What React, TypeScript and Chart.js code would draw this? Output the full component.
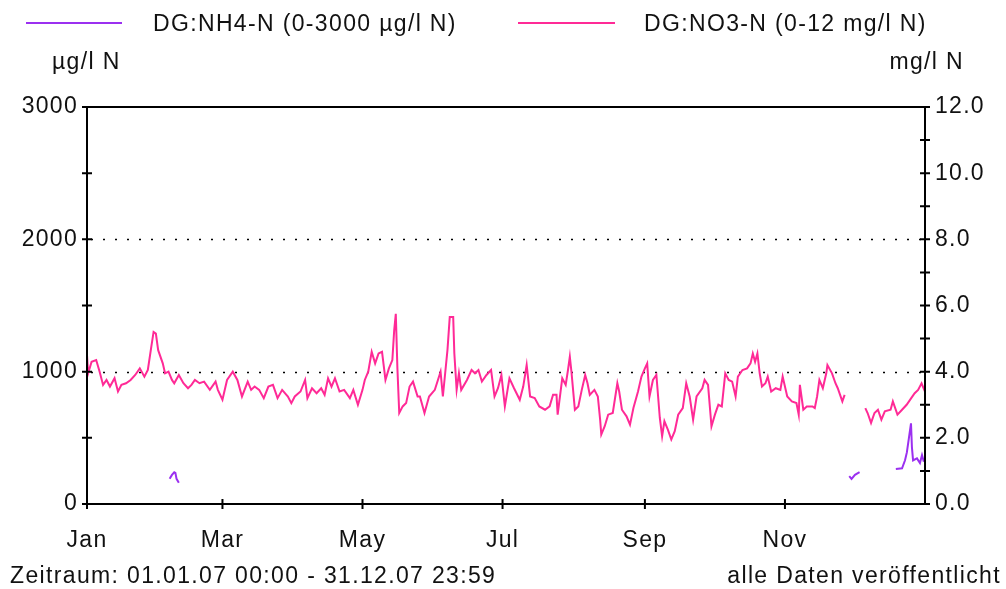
import React, { useEffect, useRef } from "react";
import { Chart, registerables } from "chart.js";

Chart.register(...registerables);

// ---- data ----
const monthDays = [0, 59, 120, 181, 243, 304];
const monthLabels = ["Jan", "Mar", "May", "Jul", "Sep", "Nov"];

// DG:NO3-N in mg/l N (right axis), x = day of year 2007; null marks a gap
const no3Days = [
  0, 0.5, 2, 4, 5.5, 7, 8.5, 10, 12, 13.5, 15, 17, 19, 21, 23, 25, 26.5, 28, 29, 30, 31, 33, 34, 35.5, 37, 38, 40,
  42, 44, 45.5, 47, 49, 51, 53.5, 56, 57, 59, 61, 63.5, 65.5, 67.5, 70, 71.5, 73, 75, 77, 79, 81, 83, 85, 87.5, 89,
  90.5, 93, 95, 96, 98, 100, 102, 103.5, 105, 106.5, 108, 110, 112, 114.5, 116, 118, 120, 121, 122.5, 124, 125.5,
  127, 128.5, 130, 131.5, 133, 133.8, 134.5, 135.2, 136, 137.5, 139, 140.5, 142, 144, 145, 147, 149, 151.5, 154,
  155, 157, 158, 159.5, 160, 161, 162, 163, 165.5, 167.5, 169, 170.5, 172, 174, 176, 177.5, 179, 180.5, 182, 184,
  186, 188.5, 190, 191.5, 193, 195, 197, 199.5, 201.5, 203, 204.5, 205, 207, 208.5, 209.5, 210.3, 211, 212.5, 214,
  215.5, 217, 218, 219, 221, 222.5, 223.5, 224, 225.5, 227, 229, 231, 231.8, 233, 235, 236.5, 238, 240, 241.5, 243,
  244, 245, 246.5, 248, 249.5, 250.5, 251.5, 253, 254.5, 256, 257.5, 259.5, 261, 262.5, 264, 265.5, 268, 269, 270.5,
  272, 273.5, 275, 276.5, 278, 279.5, 281, 282.5, 283.5, 285.5, 287.5, 289, 290, 291, 292, 293, 294, 295.5, 296.5,
  298, 300, 302, 303, 305, 307, 309, 310, 310.5, 312, 313.5, 316, 317, 318, 319, 320.5, 322, 322.5, 324.5, 326, 327,
  329, 330, 334, 339, 340, 341.5, 343, 344.5, 346, 347.5, 350, 351, 353, 355, 357, 359, 360.5, 362, 363.5, 365,
];
const no3Values = [
  4.5, 3.95, 4.3, 4.35, 4.0, 3.6, 3.75, 3.55, 3.8, 3.4, 3.6, 3.65, 3.75, 3.9, 4.1, 3.85, 4.05, 4.75, 5.2, 5.15, 4.65,
  4.25, 3.95, 4.0, 3.75, 3.65, 3.9, 3.65, 3.5, 3.6, 3.75, 3.65, 3.7, 3.45, 3.7, 3.45, 3.15, 3.75, 4.0, 3.75, 3.25,
  3.7, 3.45, 3.55, 3.45, 3.2, 3.55, 3.6, 3.2, 3.45, 3.25, 3.05, 3.25, 3.4, 3.75, 3.2, 3.5, 3.35, 3.5, 3.3, 3.8, 3.55,
  3.8, 3.4, 3.45, 3.2, 3.45, 3.0, 3.45, 3.75, 4.0, 4.6, 4.25, 4.55, 4.6, 3.75, 4.1, 4.35, 5.25, 5.75, 4.1, 2.75,
  2.95, 3.05, 3.55, 3.7, 3.25, 3.25, 2.75, 3.25, 3.45, 4.0, 3.25, 4.65, 5.65, 5.65, 4.55, 3.45, 3.95, 3.45, 3.75,
  4.05, 3.95, 4.05, 3.7, 3.9, 4.05, 3.25, 3.5, 3.9, 2.95, 3.8, 3.5, 3.15, 3.55, 4.2, 3.25, 3.2, 2.95, 2.85, 2.95,
  3.3, 3.3, 2.7, 3.8, 3.6, 4.05, 4.45, 4.0, 2.85, 2.95, 3.45, 3.9, 3.65, 3.3, 3.45, 3.25, 2.55, 2.1, 2.35, 2.7,
  2.75, 3.65, 3.4, 2.85, 2.65, 2.4, 2.9, 3.4, 3.85, 4.1, 4.25, 3.25, 3.75, 3.9, 2.6, 2.05, 2.5, 2.25, 1.95, 2.2,
  2.7, 2.9, 3.65, 3.25, 2.55, 3.25, 3.5, 3.75, 3.6, 2.35, 2.7, 3.0, 2.95, 3.95, 3.75, 3.7, 3.25, 3.85, 4.05, 4.1,
  4.25, 4.55, 4.3, 4.55, 3.95, 3.55, 3.65, 3.85, 3.4, 3.5, 3.45, 3.85, 3.25, 3.1, 3.05, 2.7, 3.6, 2.85, 2.95, 2.95,
  2.9, 3.25, 3.75, 3.5, 3.95, 4.2, 3.95, 3.65, 3.5, 3.1, 3.3, null, 2.9, 2.75, 2.45, 2.75, 2.85, 2.55, 2.8, 2.85,
  3.1, 2.7, 2.85, 3.0, 3.2, 3.35, 3.45, 3.65, 3.4,
];

// DG:NH4-N in µg/l N (left axis)
const nh4Days = [
  36, 37, 38, 38.5, 39, 40, 100, 332, 333, 334.5, 336.5, 345, 352.3, 355, 356.3, 357.1, 358, 358.9, 359.3, 359.8,
  361.5, 362.8, 363.7, 364.5,
];
const nh4Values = [
  190, 220, 240, 235, 190, 160, null, 210, 190, 220, 240, null, 265, 270, 330, 390, 500, 610, 430, 330, 345, 310,
  370, 320,
];

const leftTicksStep = 500;
const rightTicksStep = 1;

const FONT = '"Liberation Sans", Arial, sans-serif';
const PURPLE = "#9b30f0";
const PINK = "#ff2a96";

const axesPlugin = {
  id: "axesPlugin",
  beforeDraw(chart: any) {
    (chart.ctx as any).letterSpacing = "1.3px";
  },
  beforeDatasetsDraw(chart: any) {
    const { ctx, chartArea } = chart;
    const y = chart.scales.y;
    ctx.save();
    ctx.strokeStyle = "#000";
    ctx.lineWidth = 1.6;
    ctx.setLineDash([2, 10]);
    [1000, 2000].forEach((v) => {
      const py = Math.round(y.getPixelForValue(v)) + 0.5;
      ctx.beginPath();
      ctx.moveTo(chartArea.left + 4, py);
      ctx.lineTo(chartArea.right, py);
      ctx.stroke();
    });
    ctx.restore();
  },
  afterDatasetsDraw(chart: any) {
    const { ctx, chartArea } = chart;
    const { left, right, top, bottom } = chartArea;
    ctx.save();
    ctx.strokeStyle = "#000";
    ctx.setLineDash([]);
    ctx.lineWidth = 2;
    ctx.beginPath();
    ctx.moveTo(left, top);
    ctx.lineTo(right, top);
    ctx.moveTo(left, top);
    ctx.lineTo(left, bottom);
    ctx.moveTo(right, top);
    ctx.lineTo(right, bottom);
    ctx.moveTo(left, bottom);
    ctx.lineTo(right, bottom);
    ctx.stroke();
    const y = chart.scales.y;
    const y2 = chart.scales.y2;
    const x = chart.scales.x;
    ctx.beginPath();
    y.ticks.forEach((t: any) => {
      const py = y.getPixelForValue(t.value);
      ctx.moveTo(left - 5, py);
      ctx.lineTo(left + 5, py);
    });
    y2.ticks.forEach((t: any) => {
      const py = y2.getPixelForValue(t.value);
      ctx.moveTo(right - 5, py);
      ctx.lineTo(right + 5, py);
    });
    x.ticks.forEach((t: any) => {
      const px = x.getPixelForValue(t.value);
      ctx.moveTo(px, bottom - 5);
      ctx.lineTo(px, bottom + 5);
    });
    ctx.stroke();
    ctx.restore();
  },
  afterDraw(chart: any) {
    (chart.ctx as any).letterSpacing = "0px";
  },
};

const textStyle: React.CSSProperties = {
  position: "absolute",
  fontFamily: FONT,
  fontSize: "23px",
  lineHeight: "23px",
  letterSpacing: "1.35px",
  color: "#111",
  whiteSpace: "nowrap",
};

export default function App() {
  const canvasRef = useRef<HTMLCanvasElement | null>(null);

  useEffect(() => {
    if (!canvasRef.current) return;
    const no3 = no3Days.map((d, i) => ({ x: d, y: no3Values[i] }));
    const nh4 = nh4Days.map((d, i) => ({ x: d, y: nh4Values[i] }));
    const chart = new Chart(canvasRef.current, {
      type: "line",
      data: {
        datasets: [
          {
            label: "DG:NH4-N (0-3000 µg/l N)",
            data: nh4 as any,
            yAxisID: "y",
            borderColor: PURPLE,
            borderWidth: 2,
            pointRadius: 0,
            tension: 0,
            spanGaps: false,
          },
          {
            label: "DG:NO3-N (0-12 mg/l N)",
            data: no3 as any,
            yAxisID: "y2",
            borderColor: PINK,
            borderWidth: 2,
            pointRadius: 0,
            tension: 0,
            spanGaps: false,
          },
        ],
      },
      options: {
        responsive: false,
        animation: false,
        devicePixelRatio: 1,
        parsing: false as any,
        normalized: true,
        layout: { padding: { top: 107, bottom: 35, left: 0, right: 0 }, autoPadding: false } as any,
        plugins: { legend: { display: false }, tooltip: { enabled: false }, title: { display: false } },
        scales: {
          x: {
            type: "linear",
            min: 0,
            max: 365,
            grid: { display: false, drawTicks: false },
            border: { display: false },
            afterBuildTicks: (scale: any) => {
              scale.ticks = monthDays.map((v) => ({ value: v }));
            },
            afterFit: (scale: any) => {
              scale.height = 50;
            },
            ticks: {
              autoSkip: false,
              maxRotation: 0,
              padding: 23,
              color: "#111",
              font: { family: FONT, size: 23 },
              callback: (v: any) => {
                const i = monthDays.indexOf(Number(v));
                return i >= 0 ? monthLabels[i] : "";
              },
            },
          },
          y: {
            type: "linear",
            position: "left",
            min: 0,
            max: 3000,
            grid: { display: false, drawTicks: false },
            border: { display: false },
            afterFit: (scale: any) => {
              scale.width = 87;
            },
            ticks: {
              stepSize: leftTicksStep,
              padding: 9,
              color: "#111",
              font: { family: FONT, size: 23 },
              callback: (v: any) => (Number(v) % 1000 === 0 ? String(v) : ""),
            },
          },
          y2: {
            type: "linear",
            position: "right",
            min: 0,
            max: 12,
            grid: { display: false, drawTicks: false },
            border: { display: false },
            afterFit: (scale: any) => {
              scale.width = 81;
            },
            ticks: {
              stepSize: rightTicksStep,
              padding: 10,
              color: "#111",
              font: { family: FONT, size: 23 },
              callback: (v: any) => (Number(v) % 2 === 0 ? Number(v).toFixed(1) : ""),
            },
          },
        },
      },
      plugins: [axesPlugin],
    });
    return () => chart.destroy();
  }, []);

  return (
    <div style={{ position: "absolute", left: 0, top: 0, width: 1006, height: 589, background: "#fff" }}>
      <canvas ref={canvasRef} width={1006} height={589} style={{ position: "absolute", left: 0, top: 0 }} />
      <div style={{ position: "absolute", left: 26, top: 22, width: 96, height: 2, background: PURPLE }} />
      <div style={{ ...textStyle, left: 153, top: 12 }}>DG:NH4-N (0-3000 µg/l N)</div>
      <div style={{ position: "absolute", left: 518, top: 22, width: 97, height: 2, background: PINK }} />
      <div style={{ ...textStyle, left: 644, top: 12 }}>DG:NO3-N (0-12 mg/l N)</div>
      <div style={{ ...textStyle, left: 52, top: 50 }}>µg/l N</div>
      <div style={{ ...textStyle, right: 1006 - 964, top: 50 }}>mg/l N</div>
      <div style={{ ...textStyle, left: 10, top: 564 }}>Zeitraum: 01.01.07 00:00 - 31.12.07 23:59</div>
      <div style={{ ...textStyle, right: 5, top: 564 }}>alle Daten veröffentlicht</div>
    </div>
  );
}
